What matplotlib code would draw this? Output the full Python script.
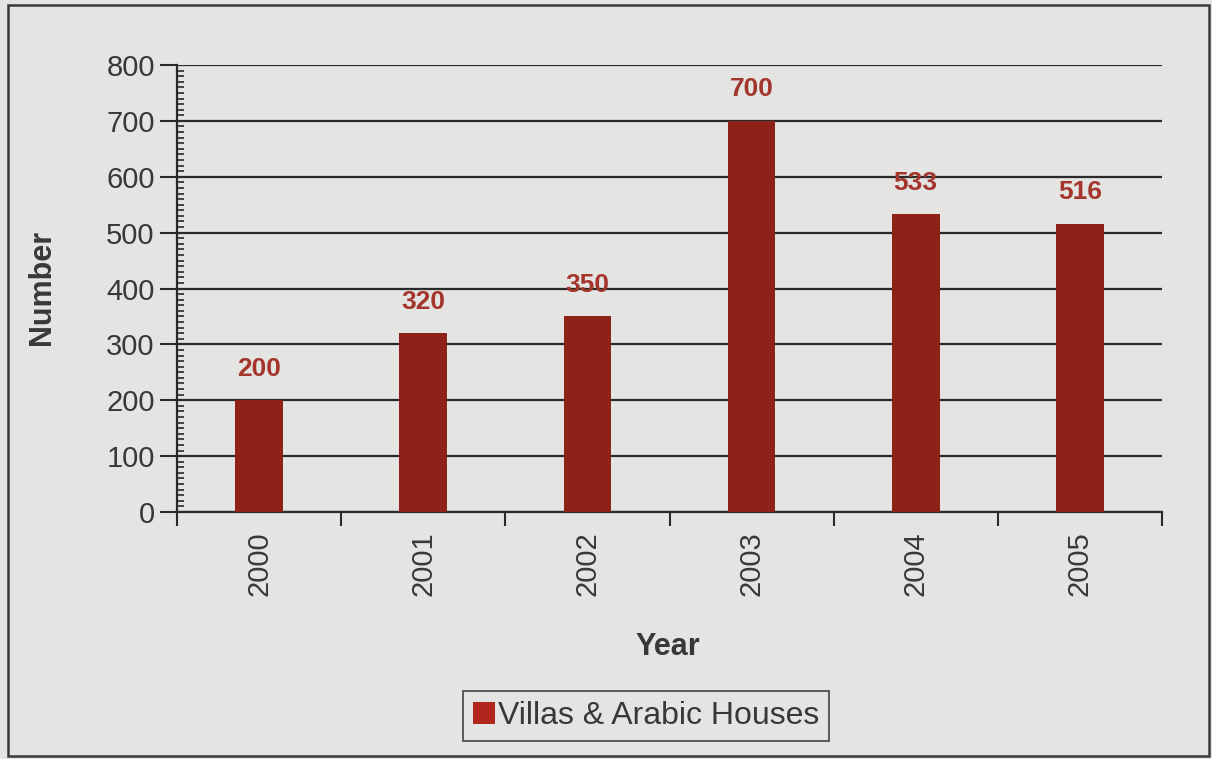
import matplotlib.pyplot as plt
from matplotlib.patches import Rectangle, Patch
from matplotlib.ticker import MultipleLocator, FixedLocator

years = ["2000", "2001", "2002", "2003", "2004", "2005"]
values = [200, 320, 350, 700, 533, 516]
series_name = "Villas & Arabic Houses"

plt.rcParams['font.family'] = ['Liberation Sans', 'DejaVu Sans']

bg = "#e4e4e2"
bar_color = "#8e2219"
label_color = "#a3352c"
ink = "#383838"

fig = plt.figure(figsize=(12.12, 7.59), dpi=100, facecolor=bg)
W, H = 1212, 759
ax = fig.add_axes([177 / W, 1 - 512 / H, (1162 - 177) / W, (512 - 65) / H])
ax.set_facecolor(bg)

x = list(range(len(years)))
ax.bar(x, values, width=0.29, color=bar_color, zorder=3)
for xi, v in zip(x, values):
    ax.annotate(f"{v}", (xi, v), xytext=(0, 14), textcoords="offset points",
                ha="center", va="bottom", fontsize=19, fontweight="bold",
                color=label_color, zorder=4)

ax.set_xlim(-0.5, len(years) - 0.5)
ax.set_ylim(0, 800)
ax.yaxis.set_major_locator(MultipleLocator(100))
ax.yaxis.set_minor_locator(MultipleLocator(10))
ax.grid(axis="y", which="major", color="#2a2a2a", lw=1.6, zorder=1)

ax.set_xticks(x)
ax.set_xticklabels(years, rotation=90, fontsize=21, color=ink)
ax.xaxis.set_minor_locator(FixedLocator([i - 0.5 for i in range(len(years) + 1)]))
ax.tick_params(axis="x", which="major", length=0, pad=14)
ax.tick_params(axis="x", which="minor", length=10, width=1.5, color="#2a2a2a", direction="out")
ax.tick_params(axis="y", which="major", length=12, width=1.5, color="#2a2a2a",
               direction="out", labelsize=21, labelcolor=ink, pad=4)
ax.tick_params(axis="y", which="minor", length=5, width=1.2, color="#2a2a2a", direction="in")

for side in ("top", "right"):
    ax.spines[side].set_visible(False)
for side in ("left", "bottom"):
    ax.spines[side].set_color("#2a2a2a")
    ax.spines[side].set_linewidth(1.6)

fig.text(42 / W, 1 - 287 / H, "Number", rotation=90, ha="center", va="center",
         fontsize=22, fontweight="bold", color=ink)
fig.text(668 / W, 1 - 647 / H, "Year", ha="center", va="center",
         fontsize=22, fontweight="bold", color=ink)

leg = fig.legend(handles=[Patch(facecolor="#b2271d", label=series_name)],
                 loc="center", bbox_to_anchor=(646 / W, 1 - 716 / H),
                 fontsize=23, frameon=True, fancybox=False, handlelength=0.7,
                 handleheight=0.7, handletextpad=0.1, borderpad=0.3)
leg.get_frame().set_edgecolor("#2a2a2a")
leg.get_frame().set_linewidth(1.3)
leg.get_frame().set_facecolor(bg)
for t in leg.get_texts():
    t.set_color(ink)

fig.patches.append(Rectangle((8 / W, 3 / H), 1201 / W, 751 / H, transform=fig.transFigure,
                             fill=False, edgecolor="#3a3a3a", lw=1.8))

fig.savefig("out.png", dpi=100, facecolor=bg)
